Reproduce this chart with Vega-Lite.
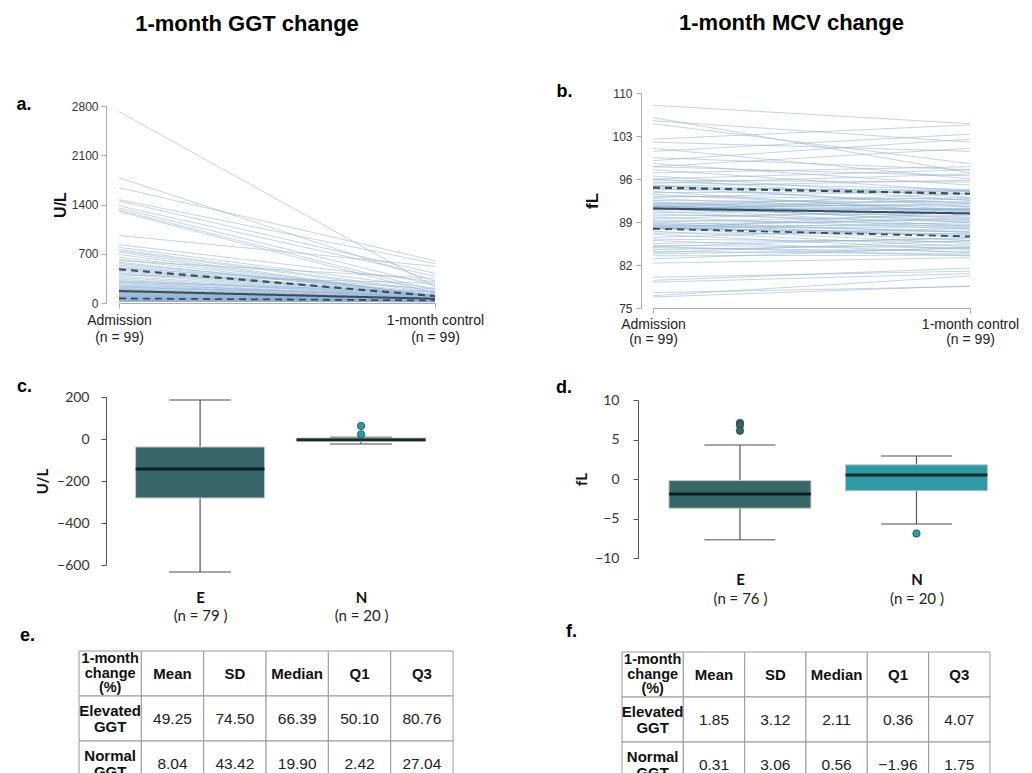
{
 "$schema": "https://vega.github.io/schema/vega-lite/v6.json",
 "autosize": {"type": "pad"},
 "padding": {"left": 16, "top": 12, "right": 0, "bottom": 0},
 "background": "white",
 "config": {"view": {"stroke": null}, "font": "Liberation Sans", "axis": {"grid": false}},
 "datasets": {
  "ggt": [
   {"id":1,"adm":2720,"ctl":230},{"id":2,"adm":1780,"ctl":310},{"id":3,"adm":1640,"ctl":600},{"id":4,"adm":1470,"ctl":560},{"id":5,"adm":1450,"ctl":420},
   {"id":6,"adm":1380,"ctl":380},{"id":7,"adm":1350,"ctl":250},{"id":8,"adm":1320,"ctl":180},{"id":9,"adm":1300,"ctl":140},{"id":10,"adm":960,"ctl":520},
   {"id":11,"adm":830,"ctl":300},{"id":12,"adm":790,"ctl":210},{"id":13,"adm":760,"ctl":170},{"id":14,"adm":740,"ctl":150},{"id":15,"adm":720,"ctl":98},
   {"id":16,"adm":690,"ctl":96},{"id":17,"adm":650,"ctl":110},{"id":18,"adm":620,"ctl":94},{"id":19,"adm":600,"ctl":350},{"id":20,"adm":580,"ctl":95},
   {"id":21,"adm":560,"ctl":150},{"id":22,"adm":540,"ctl":130},{"id":23,"adm":520,"ctl":90},{"id":24,"adm":500,"ctl":200},{"id":25,"adm":490,"ctl":99},
   {"id":26,"adm":470,"ctl":105},{"id":27,"adm":450,"ctl":100},{"id":28,"adm":430,"ctl":98},{"id":29,"adm":410,"ctl":85},{"id":30,"adm":400,"ctl":280},
   {"id":31,"adm":380,"ctl":92},{"id":32,"adm":360,"ctl":80},{"id":33,"adm":340,"ctl":75},{"id":34,"adm":320,"ctl":110},{"id":35,"adm":310,"ctl":70},
   {"id":36,"adm":300,"ctl":160},{"id":37,"adm":290,"ctl":68},{"id":38,"adm":280,"ctl":72},{"id":39,"adm":260,"ctl":90},{"id":40,"adm":250,"ctl":66},
   {"id":41,"adm":240,"ctl":62},{"id":42,"adm":230,"ctl":60},{"id":43,"adm":220,"ctl":120},{"id":44,"adm":210,"ctl":58},{"id":45,"adm":200,"ctl":64},
   {"id":46,"adm":195,"ctl":56},{"id":47,"adm":190,"ctl":55},{"id":48,"adm":180,"ctl":54},{"id":49,"adm":175,"ctl":70},{"id":50,"adm":170,"ctl":63},
   {"id":51,"adm":165,"ctl":65},{"id":52,"adm":160,"ctl":52},{"id":53,"adm":155,"ctl":50},{"id":54,"adm":150,"ctl":61},{"id":55,"adm":145,"ctl":48},
   {"id":56,"adm":140,"ctl":67},{"id":57,"adm":135,"ctl":46},{"id":58,"adm":130,"ctl":45},{"id":59,"adm":125,"ctl":60},{"id":60,"adm":120,"ctl":44},
   {"id":61,"adm":115,"ctl":43},{"id":62,"adm":110,"ctl":42},{"id":63,"adm":105,"ctl":55},{"id":64,"adm":100,"ctl":41},{"id":65,"adm":95,"ctl":40},
   {"id":66,"adm":92,"ctl":52},{"id":67,"adm":88,"ctl":39},{"id":68,"adm":85,"ctl":38},{"id":69,"adm":82,"ctl":45},{"id":70,"adm":80,"ctl":37},
   {"id":71,"adm":76,"ctl":36},{"id":72,"adm":72,"ctl":42},{"id":73,"adm":70,"ctl":35},{"id":74,"adm":67,"ctl":34},{"id":75,"adm":63,"ctl":40},
   {"id":76,"adm":61,"ctl":33},{"id":77,"adm":59,"ctl":32},{"id":78,"adm":57,"ctl":38},{"id":79,"adm":55,"ctl":31},{"id":80,"adm":53,"ctl":30},
   {"id":81,"adm":51,"ctl":36},{"id":82,"adm":49,"ctl":29},{"id":83,"adm":47,"ctl":28},{"id":84,"adm":45,"ctl":35},{"id":85,"adm":44,"ctl":27},
   {"id":86,"adm":42,"ctl":26},{"id":87,"adm":40,"ctl":30},{"id":88,"adm":39,"ctl":25},{"id":89,"adm":38,"ctl":24},{"id":90,"adm":36,"ctl":28},
   {"id":91,"adm":35,"ctl":23},{"id":92,"adm":34,"ctl":22},{"id":93,"adm":33,"ctl":26},{"id":94,"adm":32,"ctl":21},{"id":95,"adm":30,"ctl":20},
   {"id":96,"adm":28,"ctl":22},{"id":97,"adm":26,"ctl":19},{"id":98,"adm":24,"ctl":18},{"id":99,"adm":22,"ctl":17}
  ],
  "mcv": [
   {"id":1,"adm":108,"ctl":105},{"id":2,"adm":106,"ctl":97},{"id":3,"adm":105.5,"ctl":102},{"id":4,"adm":105,"ctl":98.5},{"id":5,"adm":102.5,"ctl":104.8},
   {"id":6,"adm":102,"ctl":100.5},{"id":7,"adm":101,"ctl":96},{"id":8,"adm":100.5,"ctl":103.3},{"id":9,"adm":99.5,"ctl":97.5},{"id":10,"adm":99,"ctl":102.5},
   {"id":11,"adm":98.5,"ctl":95},{"id":12,"adm":98,"ctl":96.5},{"id":13,"adm":98,"ctl":101},{"id":14,"adm":97.5,"ctl":94},{"id":15,"adm":97,"ctl":98},
   {"id":16,"adm":96.5,"ctl":93},{"id":17,"adm":96,"ctl":97.5},{"id":18,"adm":96,"ctl":92.5},{"id":19,"adm":95.8,"ctl":95.5},{"id":20,"adm":95.5,"ctl":94.3},
   {"id":21,"adm":95.3,"ctl":96.8},{"id":22,"adm":95,"ctl":91.5},{"id":23,"adm":94.9,"ctl":93.5},{"id":24,"adm":94.8,"ctl":95.8},{"id":25,"adm":94.7,"ctl":94},
   {"id":26,"adm":94.5,"ctl":92},{"id":27,"adm":94.3,"ctl":94.2},{"id":28,"adm":94,"ctl":90.5},{"id":29,"adm":93.8,"ctl":93.9},{"id":30,"adm":93.5,"ctl":91},
   {"id":31,"adm":93.2,"ctl":92.7},{"id":32,"adm":93,"ctl":94.1},{"id":33,"adm":92.8,"ctl":90.8},{"id":34,"adm":92.5,"ctl":92.2},{"id":35,"adm":92.3,"ctl":89.5},
   {"id":36,"adm":92.1,"ctl":91.5},{"id":37,"adm":92,"ctl":93},{"id":38,"adm":91.9,"ctl":91},{"id":39,"adm":91.8,"ctl":88.9},{"id":40,"adm":91.7,"ctl":92.4},
   {"id":41,"adm":91.6,"ctl":90.2},{"id":42,"adm":91.5,"ctl":91.8},{"id":43,"adm":91.5,"ctl":89.2},{"id":44,"adm":91.4,"ctl":91.1},{"id":45,"adm":91.4,"ctl":93.7},
   {"id":46,"adm":91.3,"ctl":88.3},{"id":47,"adm":91.3,"ctl":90.9},{"id":48,"adm":91.2,"ctl":92},{"id":49,"adm":91.2,"ctl":91},{"id":50,"adm":91.2,"ctl":90.3},
   {"id":51,"adm":91.1,"ctl":89.8},{"id":52,"adm":91,"ctl":90.6},{"id":53,"adm":91,"ctl":92.8},{"id":54,"adm":90.8,"ctl":88},{"id":55,"adm":90.5,"ctl":91.3},
   {"id":56,"adm":90.3,"ctl":89},{"id":57,"adm":90,"ctl":90.4},{"id":58,"adm":89.8,"ctl":87.8},{"id":59,"adm":89.5,"ctl":91.2},{"id":60,"adm":89.3,"ctl":88.6},
   {"id":61,"adm":89,"ctl":87.3},{"id":62,"adm":89,"ctl":90.1},{"id":63,"adm":88.8,"ctl":86.5},{"id":64,"adm":88.6,"ctl":89.4},{"id":65,"adm":88.5,"ctl":87.5},
   {"id":66,"adm":88.4,"ctl":88.4},{"id":67,"adm":88.3,"ctl":86},{"id":68,"adm":88.2,"ctl":89.7},{"id":69,"adm":88.1,"ctl":87},{"id":70,"adm":88,"ctl":85.5},
   {"id":71,"adm":88,"ctl":88.2},{"id":72,"adm":88,"ctl":86.8},{"id":73,"adm":87.9,"ctl":87.4},{"id":74,"adm":87.9,"ctl":90.7},{"id":75,"adm":87.9,"ctl":88.9},
   {"id":76,"adm":87.5,"ctl":85},{"id":77,"adm":87.2,"ctl":87.1},{"id":78,"adm":87,"ctl":84.5},{"id":79,"adm":86.5,"ctl":88},{"id":80,"adm":86.2,"ctl":85.8},
   {"id":81,"adm":86,"ctl":84},{"id":82,"adm":85.5,"ctl":86.3},{"id":83,"adm":85.2,"ctl":84.8},{"id":84,"adm":85,"ctl":83.5},{"id":85,"adm":85,"ctl":86.5},
   {"id":86,"adm":84.8,"ctl":84.2},{"id":87,"adm":84.5,"ctl":85.3},{"id":88,"adm":84.2,"ctl":83.8},{"id":89,"adm":84,"ctl":86},{"id":90,"adm":83.8,"ctl":84.7},
   {"id":91,"adm":83.5,"ctl":83.6},{"id":92,"adm":83,"ctl":84.9},{"id":93,"adm":82.3,"ctl":83.2},{"id":94,"adm":80,"ctl":81},{"id":95,"adm":79.5,"ctl":81.5},
   {"id":96,"adm":79.2,"ctl":80.6},{"id":97,"adm":77.5,"ctl":78.5},{"id":98,"adm":77,"ctl":80.2},{"id":99,"adm":76.8,"ctl":78.6}
  ],
  "ggtBox": [
   {"g":"E","lo":-633,"q1":-281,"med":-143,"q3":-38,"hi":186},
   {"g":"N","lo":-24,"q1":-12,"med":-4,"q3":4,"hi":8}
  ],
  "ggtOut": [{"g":"N","v":62},{"g":"N","v":22}],
  "mcvBox": [
   {"g":"E","lo":-7.7,"q1":-3.7,"med":-1.9,"q3":-0.2,"hi":4.3},
   {"g":"N","lo":-5.7,"q1":-1.5,"med":0.5,"q3":1.8,"hi":2.9}
  ],
  "mcvOut": [{"g":"E","v":7.1},{"g":"E","v":6.8},{"g":"E","v":6.1},{"g":"N","v":-6.9}],
  "tabE": [
   {"r":"h","c":"0","t":"1-month\nchange\n(%)"},{"r":"h","c":"1","t":"Mean"},{"r":"h","c":"2","t":"SD"},{"r":"h","c":"3","t":"Median"},{"r":"h","c":"4","t":"Q1"},{"r":"h","c":"5","t":"Q3"},
   {"r":"a","c":"0","t":"Elevated\nGGT"},{"r":"a","c":"1","t":"49.25"},{"r":"a","c":"2","t":"74.50"},{"r":"a","c":"3","t":"66.39"},{"r":"a","c":"4","t":"50.10"},{"r":"a","c":"5","t":"80.76"},
   {"r":"b","c":"0","t":"Normal\nGGT"},{"r":"b","c":"1","t":"8.04"},{"r":"b","c":"2","t":"43.42"},{"r":"b","c":"3","t":"19.90"},{"r":"b","c":"4","t":"2.42"},{"r":"b","c":"5","t":"27.04"}
  ],
  "tabF": [
   {"r":"h","c":"0","t":"1-month\nchange\n(%)"},{"r":"h","c":"1","t":"Mean"},{"r":"h","c":"2","t":"SD"},{"r":"h","c":"3","t":"Median"},{"r":"h","c":"4","t":"Q1"},{"r":"h","c":"5","t":"Q3"},
   {"r":"a","c":"0","t":"Elevated\nGGT"},{"r":"a","c":"1","t":"1.85"},{"r":"a","c":"2","t":"3.12"},{"r":"a","c":"3","t":"2.11"},{"r":"a","c":"4","t":"0.36"},{"r":"a","c":"5","t":"4.07"},
   {"r":"b","c":"0","t":"Normal\nGGT"},{"r":"b","c":"1","t":"0.31"},{"r":"b","c":"2","t":"3.06"},{"r":"b","c":"3","t":"0.56"},{"r":"b","c":"4","t":"−1.96"},{"r":"b","c":"5","t":"1.75"}
  ],
  "blank": [{"s": 0}]
 },
 "hconcat": [
  {
   "vconcat": [
    {"width": 1, "height": 13, "data": {"name": "blank"}, "mark": {"type": "point", "opacity": 0}, "encoding": {}},
    {
     "width": 316, "height": 197,
     "data": {"name": "ggt"},
     "title": {"text": "1-month GGT change", "fontSize": 22, "font": "Liberation Sans", "fontWeight": "bold", "color": "#000", "anchor": "middle", "dx": -30, "offset": 37, "baseline": "bottom"},
     "transform": [{"fold": ["adm", "ctl"], "as": ["time", "value"]}],
     "encoding": {
      "x": {"field": "time", "type": "ordinal", "scale": {"type": "point", "padding": 0, "domain": ["adm", "ctl"]},
            "axis": {"title": "a.", "titleX": -103, "titleY": -199, "titleAngle": 0, "titleAlign": "left", "titleBaseline": "middle", "titleFontSize": 18, "titleFontWeight": "bold", "titleColor": "#000", "titleFont": "Liberation Sans",
                     "labelExpr": "datum.value == 'adm' ? ['Admission', '(n = 99)'] : ['1-month control', '(n = 99)']", "labelAngle": 0, "labelFontSize": 14, "labelLineHeight": 17, "labelColor": "#222", "labelPadding": 5, "tickSize": 5, "domainColor": "#aaa", "tickColor": "#aaa"}}
     },
     "layer": [
      {"mark": {"type": "line", "color": "#92b3d2", "strokeWidth": 1, "opacity": 0.55},
       "encoding": {
        "y": {"field": "value", "type": "quantitative", "title": "U/L", "scale": {"domain": [0, 2800], "nice": false, "zero": false},
              "axis": {"values": [0, 700, 1400, 2100, 2800], "format": "d", "offset": 13, "tickSize": 5, "labelPadding": 3, "labelFontSize": 12, "labelColor": "#333", "domainColor": "#aaa", "tickColor": "#aaa", "titleFontSize": 16, "titleFontWeight": "bold", "titleColor": "#111", "titlePadding": 3}},
        "detail": {"field": "id", "type": "nominal"}
       }},
      {"transform": [
        {"aggregate": [{"op": "q1", "field": "value", "as": "Q1"}, {"op": "median", "field": "value", "as": "Median"}, {"op": "q3", "field": "value", "as": "Q3"}], "groupby": ["time"]},
        {"fold": ["Q1", "Median", "Q3"], "as": ["stat", "sv"]}],
       "mark": {"type": "line", "color": "#3a4d5e"},
       "encoding": {
        "y": {"field": "sv", "type": "quantitative", "title": "U/L", "scale": {"domain": [0, 2800], "nice": false, "zero": false}},
        "detail": {"field": "stat", "type": "nominal"},
        "strokeDash": {"field": "stat", "type": "nominal", "scale": {"domain": ["Q1", "Median", "Q3"], "range": [[7, 5], [1, 0], [7, 5]]}, "legend": null},
        "strokeWidth": {"field": "stat", "type": "nominal", "scale": {"domain": ["Q1", "Median", "Q3"], "range": [1.8, 2.2, 1.8]}, "legend": null}
       }}
     ]
    },
    {"width": 1, "height": 94, "data": {"name": "blank"}, "mark": {"type": "point", "opacity": 0}, "encoding": {}},
    {
     "width": 340, "height": 168,
     "title": {"text": "c.", "anchor": "start", "frame": "group", "dx": -90, "offset": -15, "baseline": "middle", "fontSize": 18, "fontWeight": "bold", "font": "Liberation Sans", "color": "#000"},
     "data": {"name": "ggtBox"},
     "encoding": {
      "y": {"type": "quantitative", "title": "U/L", "scale": {"domain": [-600, 200], "nice": false, "zero": false},
            "axis": {"values": [-600, -400, -200, 0, 200], "labelOverlap": false, "offset": 1, "tickSize": 5, "labelPadding": 12, "labelFont": "Lato", "labelFontSize": 14, "labelColor": "#333", "domainColor": "#555", "tickColor": "#555", "titleFont": "Lato", "titleFontSize": 15, "titleFontWeight": "bold", "titleColor": "#111", "titlePadding": 6}}
     },
     "layer": [
      {"mark": {"type": "rule", "color": "#555", "strokeWidth": 1.2},
       "encoding": {
        "x": {"field": "g", "type": "nominal", "scale": {"type": "point", "domain": ["E", "N"], "padding": 0.556, "align": 0.52},
              "axis": {"orient": "bottom", "title": null, "domain": false, "ticks": false, "tickSize": 0, "labelAngle": 0, "labelFont": "Lato", "labelFontSize": 15, "labelFontWeight": "bold", "labelColor": "#111", "labelPadding": 25}},
        "y": {"field": "lo"},
        "y2": {"field": "hi"}
       }},
      {"transform": [{"fold": ["lo", "hi"], "as": ["k", "v"]}],
       "mark": {"type": "tick", "color": "#555", "size": 62, "thickness": 1.5},
       "encoding": {
        "x": {"field": "g", "type": "nominal", "axis": null},
        "y": {"field": "v"}
       }},
      {"mark": {"type": "bar", "size": 129, "stroke": "#c8c8c8", "strokeWidth": 1},
       "encoding": {
        "x": {"field": "g", "type": "nominal", "axis": null},
        "y": {"field": "q1"},
        "y2": {"field": "q3"},
        "color": {"field": "g", "type": "nominal", "scale": {"domain": ["E", "N"], "range": ["#386769", "#2f9aa3"]}, "legend": null}
       }},
      {"mark": {"type": "tick", "color": "#000", "size": 129, "thickness": 3},
       "encoding": {
        "x": {"field": "g", "type": "nominal",
              "axis": {"orient": "bottom", "title": null, "domain": false, "ticks": false, "tickSize": 0, "labelAngle": 0, "labelFont": "Lato", "labelFontSize": 15, "labelColor": "#222", "labelPadding": 43, "labelExpr": "datum.value == 'E' ? '(n =  79 )' : '(n =  20 )'"}},
        "y": {"field": "med"}
       }},
      {"data": {"name": "ggtOut"},
       "mark": {"type": "point", "filled": true, "size": 55, "stroke": "#1f4045", "strokeWidth": 0.7, "opacity": 1},
       "encoding": {
        "x": {"field": "g", "type": "nominal", "axis": null},
        "y": {"field": "v"},
        "fill": {"field": "g", "type": "nominal", "scale": {"domain": ["E", "N"], "range": ["#386769", "#2f9aa3"]}, "legend": null}
       }}
     ],
     "resolve": {"axis": {"x": "independent"}}
    },
    {"width": 1, "height": 86, "data": {"name": "blank"}, "mark": {"type": "point", "opacity": 0}, "encoding": {}},
    {
     "width": 396, "height": 135,
     "data": {"name": "tabE"},
     "title": {"text": "e.", "anchor": "start", "frame": "group", "dx": -59, "offset": -3, "baseline": "middle", "fontSize": 18, "fontWeight": "bold", "font": "Liberation Sans", "color": "#000"},
     "encoding": {
      "x": {"field": "c", "type": "ordinal", "scale": {"type": "band", "paddingInner": 0, "paddingOuter": 0.176, "align": 0}, "axis": null},
      "y": {"field": "r", "type": "ordinal", "sort": ["h", "a", "b"], "scale": {"type": "band", "paddingInner": 0, "paddingOuter": 0}, "axis": null}
     },
     "layer": [
      {"mark": {"type": "rect", "fill": "white", "stroke": "#9a9a9a", "strokeWidth": 1}},
      {"transform": [{"filter": "datum.r == 'h' && datum.c == '0'"}],
       "mark": {"type": "text", "fontWeight": "bold", "fontSize": 14.5, "lineHeight": 14.5, "lineBreak": "\n", "dy": -14.5, "color": "#111", "font": "Liberation Sans", "baseline": "middle"},
       "encoding": {"text": {"field": "t"}}},
      {"transform": [{"filter": "datum.r == 'h' && datum.c != '0'"}],
       "mark": {"type": "text", "fontWeight": "bold", "fontSize": 15, "color": "#111", "font": "Liberation Sans", "baseline": "middle"},
       "encoding": {"text": {"field": "t"}}},
      {"transform": [{"filter": "datum.r != 'h' && datum.c == '0'"}],
       "mark": {"type": "text", "fontWeight": "bold", "fontSize": 15, "lineHeight": 16, "lineBreak": "\n", "dy": -8, "color": "#111", "font": "Liberation Sans", "baseline": "middle"},
       "encoding": {"text": {"field": "t"}}},
      {"transform": [{"filter": "datum.r != 'h' && datum.c != '0'"}],
       "mark": {"type": "text", "fontSize": 15.5, "color": "#222", "font": "Liberation Sans", "baseline": "middle"},
       "encoding": {"text": {"field": "t"}}}
     ]
    }
   ],
   "spacing": 0, "bounds": "flush", "center": true
  },
  {
   "vconcat": [
    {
     "width": 317, "height": 215,
     "data": {"name": "mcv"},
     "title": {"text": "1-month MCV change", "fontSize": 22, "font": "Liberation Sans", "fontWeight": "bold", "color": "#000", "anchor": "middle", "dx": -20, "offset": 25, "baseline": "bottom"},
     "transform": [{"fold": ["adm", "ctl"], "as": ["time", "value"]}],
     "encoding": {
      "x": {"field": "time", "type": "ordinal", "scale": {"type": "point", "padding": 0, "domain": ["adm", "ctl"]},
            "axis": {"title": "b.", "titleX": -97, "titleY": -217, "titleAngle": 0, "titleAlign": "left", "titleBaseline": "middle", "titleFontSize": 18, "titleFontWeight": "bold", "titleColor": "#000", "titleFont": "Liberation Sans",
                     "labelExpr": "datum.value == 'adm' ? ['Admission', '(n = 99)'] : ['1-month control', '(n = 99)']", "labelAngle": 0, "labelFontSize": 14, "labelLineHeight": 15, "labelColor": "#222", "labelPadding": 4, "tickSize": 5, "domainColor": "#aaa", "tickColor": "#aaa"}}
     },
     "layer": [
      {"mark": {"type": "line", "color": "#92b3d2", "strokeWidth": 1, "opacity": 0.55},
       "encoding": {
        "y": {"field": "value", "type": "quantitative", "title": "fL", "scale": {"domain": [75, 110], "nice": false, "zero": false},
              "axis": {"values": [75, 82, 89, 96, 103, 110], "offset": 12, "tickSize": 5, "labelPadding": 4, "labelFontSize": 12, "labelColor": "#333", "domainColor": "#aaa", "tickColor": "#aaa", "titleFontSize": 17, "titleFontWeight": "bold", "titleColor": "#111", "titlePadding": 10}},
        "detail": {"field": "id", "type": "nominal"}
       }},
      {"transform": [
        {"aggregate": [{"op": "q1", "field": "value", "as": "Q1"}, {"op": "median", "field": "value", "as": "Median"}, {"op": "q3", "field": "value", "as": "Q3"}], "groupby": ["time"]},
        {"fold": ["Q1", "Median", "Q3"], "as": ["stat", "sv"]}],
       "mark": {"type": "line", "color": "#3a4d5e"},
       "encoding": {
        "y": {"field": "sv", "type": "quantitative", "title": "fL", "scale": {"domain": [75, 110], "nice": false, "zero": false}},
        "detail": {"field": "stat", "type": "nominal"},
        "strokeDash": {"field": "stat", "type": "nominal", "scale": {"domain": ["Q1", "Median", "Q3"], "range": [[7, 5], [1, 0], [7, 5]]}, "legend": null},
        "strokeWidth": {"field": "stat", "type": "nominal", "scale": {"domain": ["Q1", "Median", "Q3"], "range": [1.8, 2.2, 1.8]}, "legend": null}
       }}
     ]
    },
    {"width": 1, "height": 92, "data": {"name": "blank"}, "mark": {"type": "point", "opacity": 0}, "encoding": {}},
    {
     "width": 347, "height": 158,
     "title": {"text": "d.", "anchor": "start", "frame": "group", "dx": -82, "offset": -13, "baseline": "middle", "fontSize": 18, "fontWeight": "bold", "font": "Liberation Sans", "color": "#000"},
     "data": {"name": "mcvBox"},
     "encoding": {
      "y": {"type": "quantitative", "title": "fL", "scale": {"domain": [-10, 10], "nice": false, "zero": false},
            "axis": {"values": [-10, -5, 0, 5, 10], "tickCount": 5, "labelOverlap": false, "offset": 0, "tickSize": 5, "labelPadding": 14, "labelFont": "Lato", "labelFontSize": 14, "labelColor": "#333", "domainColor": "#555", "tickColor": "#555", "titleFont": "Lato", "titleFontSize": 15, "titleFontWeight": "bold", "titleColor": "#111", "titlePadding": 5}}
     },
     "layer": [
      {"mark": {"type": "rule", "color": "#555", "strokeWidth": 1.2},
       "encoding": {
        "x": {"field": "g", "type": "nominal", "scale": {"type": "point", "domain": ["E", "N"], "padding": 0.483, "align": 0.598},
              "axis": {"orient": "bottom", "title": null, "domain": false, "ticks": false, "tickSize": 0, "labelAngle": 0, "labelFont": "Lato", "labelFontSize": 15, "labelFontWeight": "bold", "labelColor": "#111", "labelPadding": 14}},
        "y": {"field": "lo"},
        "y2": {"field": "hi"}
       }},
      {"transform": [{"fold": ["lo", "hi"], "as": ["k", "v"]}],
       "mark": {"type": "tick", "color": "#555", "size": 71, "thickness": 1.5},
       "encoding": {
        "x": {"field": "g", "type": "nominal", "axis": null},
        "y": {"field": "v"}
       }},
      {"mark": {"type": "bar", "size": 142, "stroke": "#c8c8c8", "strokeWidth": 1},
       "encoding": {
        "x": {"field": "g", "type": "nominal", "axis": null},
        "y": {"field": "q1"},
        "y2": {"field": "q3"},
        "color": {"field": "g", "type": "nominal", "scale": {"domain": ["E", "N"], "range": ["#386769", "#2f9aa3"]}, "legend": null}
       }},
      {"mark": {"type": "tick", "color": "#000", "size": 142, "thickness": 3},
       "encoding": {
        "x": {"field": "g", "type": "nominal",
              "axis": {"orient": "bottom", "title": null, "domain": false, "ticks": false, "tickSize": 0, "labelAngle": 0, "labelFont": "Lato", "labelFontSize": 15, "labelColor": "#222", "labelPadding": 33, "labelExpr": "datum.value == 'E' ? '(n =  76 )' : '(n =  20 )'"}},
        "y": {"field": "med"}
       }},
      {"data": {"name": "mcvOut"},
       "mark": {"type": "point", "filled": true, "size": 55, "stroke": "#1f4045", "strokeWidth": 0.7, "opacity": 1},
       "encoding": {
        "x": {"field": "g", "type": "nominal", "axis": null},
        "y": {"field": "v"},
        "fill": {"field": "g", "type": "nominal", "scale": {"domain": ["E", "N"], "range": ["#386769", "#2f9aa3"]}, "legend": null}
       }}
     ],
     "resolve": {"axis": {"x": "independent"}}
    },
    {"width": 1, "height": 94, "data": {"name": "blank"}, "mark": {"type": "point", "opacity": 0}, "encoding": {}},
    {
     "width": 379, "height": 135,
     "data": {"name": "tabF"},
     "title": {"text": "f.", "anchor": "start", "frame": "group", "dx": -56, "offset": 2, "baseline": "middle", "fontSize": 18, "fontWeight": "bold", "font": "Liberation Sans", "color": "#000"},
     "encoding": {
      "x": {"field": "c", "type": "ordinal", "scale": {"type": "band", "paddingInner": 0, "paddingOuter": 0.09, "align": 0}, "axis": null},
      "y": {"field": "r", "type": "ordinal", "sort": ["h", "a", "b"], "scale": {"type": "band", "paddingInner": 0, "paddingOuter": 0}, "axis": null}
     },
     "layer": [
      {"mark": {"type": "rect", "fill": "white", "stroke": "#9a9a9a", "strokeWidth": 1}},
      {"transform": [{"filter": "datum.r == 'h' && datum.c == '0'"}],
       "mark": {"type": "text", "fontWeight": "bold", "fontSize": 14.5, "lineHeight": 14.5, "lineBreak": "\n", "dy": -14.5, "color": "#111", "font": "Liberation Sans", "baseline": "middle"},
       "encoding": {"text": {"field": "t"}}},
      {"transform": [{"filter": "datum.r == 'h' && datum.c != '0'"}],
       "mark": {"type": "text", "fontWeight": "bold", "fontSize": 15, "color": "#111", "font": "Liberation Sans", "baseline": "middle"},
       "encoding": {"text": {"field": "t"}}},
      {"transform": [{"filter": "datum.r != 'h' && datum.c == '0'"}],
       "mark": {"type": "text", "fontWeight": "bold", "fontSize": 15, "lineHeight": 16, "lineBreak": "\n", "dy": -8, "color": "#111", "font": "Liberation Sans", "baseline": "middle"},
       "encoding": {"text": {"field": "t"}}},
      {"transform": [{"filter": "datum.r != 'h' && datum.c != '0'"}],
       "mark": {"type": "text", "fontSize": 15.5, "color": "#222", "font": "Liberation Sans", "baseline": "middle"},
       "encoding": {"text": {"field": "t"}}}
     ]
    }
   ],
   "spacing": 0, "bounds": "flush", "center": true
  }
 ],
 "spacing": 72,
 "bounds": "full"
}
